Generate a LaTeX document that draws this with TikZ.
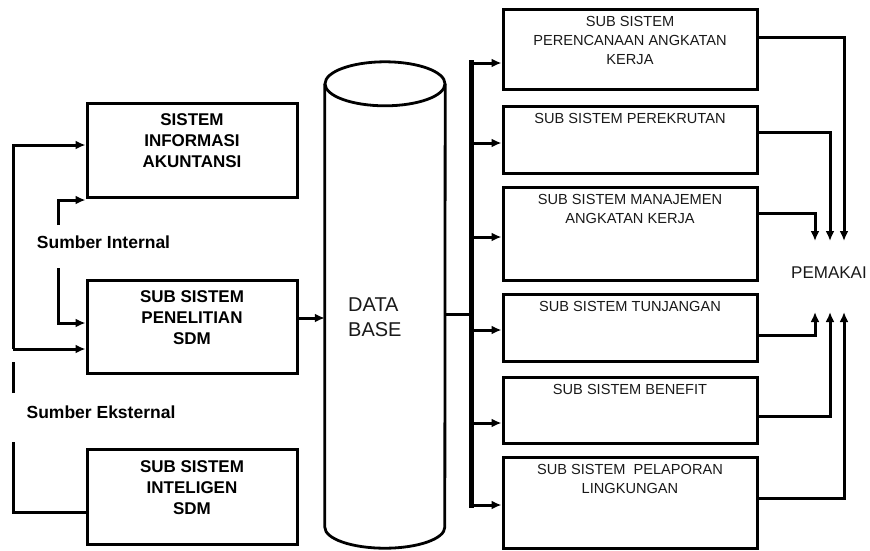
\documentclass[tikz,border=0pt]{standalone}
\usepackage{fontspec}
\setmainfont{Liberation Sans}
\usetikzlibrary{arrows.meta, positioning}

\begin{document}
\begin{tikzpicture}[x=1pt, y=-1pt,
    box/.style={draw, line width=3pt, inner sep=0pt},
    boldtext/.style={font=\fontsize{17}{21}\selectfont\bfseries, align=center, inner sep=0pt},
    subtext/.style={font=\fontsize{14.6}{19}\selectfont, align=center, text=black!90, anchor=north, inner sep=0pt},
    srctext/.style={font=\fontsize{17.5}{21}\selectfont\bfseries, inner sep=0pt},
    conn/.style={line width=3pt, -{Latex[length=10pt,width=9pt]}},
    plain/.style={line width=3pt},
    bus/.style={line width=5.5pt, line cap=rect},
    dbline/.style={line width=2.8pt}]
    \useasboundingbox (0,0) rectangle (870,550);

    % sumber (kiri)
    \node[box, minimum width=210pt, minimum height=94pt] (sia) at (192,150) {};
    \node[boldtext, yshift=9pt] (siatext) at (sia) {SISTEM\\INFORMASI\\AKUNTANSI};
    \node[box, minimum width=210pt, minimum height=93pt] (pen) at (192,326.5) {};
    \node[boldtext, yshift=9pt] (pentext) at (pen) {SUB SISTEM\\PENELITIAN\\SDM};
    \node[box, minimum width=210pt, minimum height=95pt] (intel) at (192,496.5) {};
    \node[boldtext, yshift=9pt] (inteltext) at (intel) {SUB SISTEM\\INTELIGEN\\SDM};

    \node[srctext] (internal) at (103.5,242) {Sumber Internal};
    \node[srctext] (eksternal) at (101,412) {Sumber Eksternal};

    % database
    \node[minimum width=120pt, minimum height=443pt, inner sep=0pt] (db) at (385,305.5) {};
    \draw[dbline] (db.north west) -- (db.south west) arc[start angle=180, end angle=360, x radius=60pt, y radius=21pt] -- (db.north east);
    \draw[dbline] (db.north) ellipse[x radius=60pt, y radius=22pt];
    \node[font=\fontsize{20}{25}\selectfont, align=left, anchor=west, inner sep=0pt, text=black!90] (dbtext) at (348,317) {DATA\\BASE};

    % sub sistem (kanan)
    \node[box, minimum width=254pt, minimum height=80pt] (r1) at (630,49) {};
    \node[box, minimum width=254pt, minimum height=67pt] (r2) at (630,139.5) {};
    \node[box, minimum width=254pt, minimum height=93pt] (r3) at (630,233.5) {};
    \node[box, minimum width=254pt, minimum height=67pt] (r4) at (630,327.5) {};
    \node[box, minimum width=254pt, minimum height=66pt] (r5) at (630,410) {};
    \node[box, minimum width=254pt, minimum height=91pt] (r6) at (630,502.5) {};
    \node[subtext, yshift=-9pt] (r1text) at (r1.north) {SUB SISTEM\\PERENCANAAN ANGKATAN\\KERJA};
    \node[subtext, yshift=-9pt] (r2text) at (r2.north) {SUB SISTEM PEREKRUTAN};
    \node[subtext, yshift=-9pt] (r3text) at (r3.north) {SUB SISTEM MANAJEMEN\\ANGKATAN KERJA};
    \node[subtext, yshift=-9pt] (r4text) at (r4.north) {SUB SISTEM TUNJANGAN};
    \node[subtext, yshift=-9pt] (r5text) at (r5.north) {SUB SISTEM BENEFIT};
    \node[subtext, yshift=-9pt] (r6text) at (r6.north) {SUB SISTEM\ \ PELAPORAN\\LINGKUNGAN};

    \node[font=\fontsize{17}{20}\selectfont, text=black!90, inner sep=0pt] (pemakai) at (829,273) {PEMAKAI};

    % garis kiri
    \coordinate (ext) at (13,442);
    \coordinate (extstub) at (13,393);
    \coordinate (extstubend) at (13,362);
    \coordinate (split) at (13,349);
    \coordinate (intup) at (58,225);
    \coordinate (intdown) at (58,268);
    \draw[plain] ([yshift=-15.5pt]intel.west) -| (ext);
    \draw[plain] (extstub) -- (extstubend);
    \draw[conn] (split) |- ([yshift=5pt]sia.west);
    \draw[conn] (split) -- ([yshift=-22.5pt]pen.west);
    \draw[conn] (intup) |- ([yshift=-50pt]sia.west);
    \draw[conn] (intdown) |- ([yshift=3.5pt]pen.west);
    \draw[conn] ([yshift=8.5pt]pen.east) -- ([yshift=-12.5pt]db.west);

    % bus ke sub sistem
    \coordinate (busmid) at (473,314);
    \draw[plain] ([yshift=-8.5pt]db.east) -- (busmid);
    \draw[bus] ([xshift=-30pt,yshift=-14pt]r1.west) -- ([xshift=-30pt,yshift=-2.5pt]r6.west);
    \foreach \sub/\dy in {r1/-14, r2/-3.5, r3/-3.5, r4/-2.5, r5/-13, r6/-2.5}
        \draw[conn] ([xshift=-30pt,yshift=\dy pt]\sub.west) -- ([yshift=\dy pt]\sub.west);

    % ke pemakai
    \foreach \sub/\dy/\dx/\ty in {r1/12/15/32, r2/7.5/1/32, r3/20.5/-14/32, r4/-7.5/-14/-39, r5/-6/1/-39, r6/4.5/15/-39}
        \draw[conn] ([yshift=\dy pt]\sub.east) -| ([xshift=\dx pt,yshift=\ty pt]pemakai.center);
\end{tikzpicture}
\end{document}
